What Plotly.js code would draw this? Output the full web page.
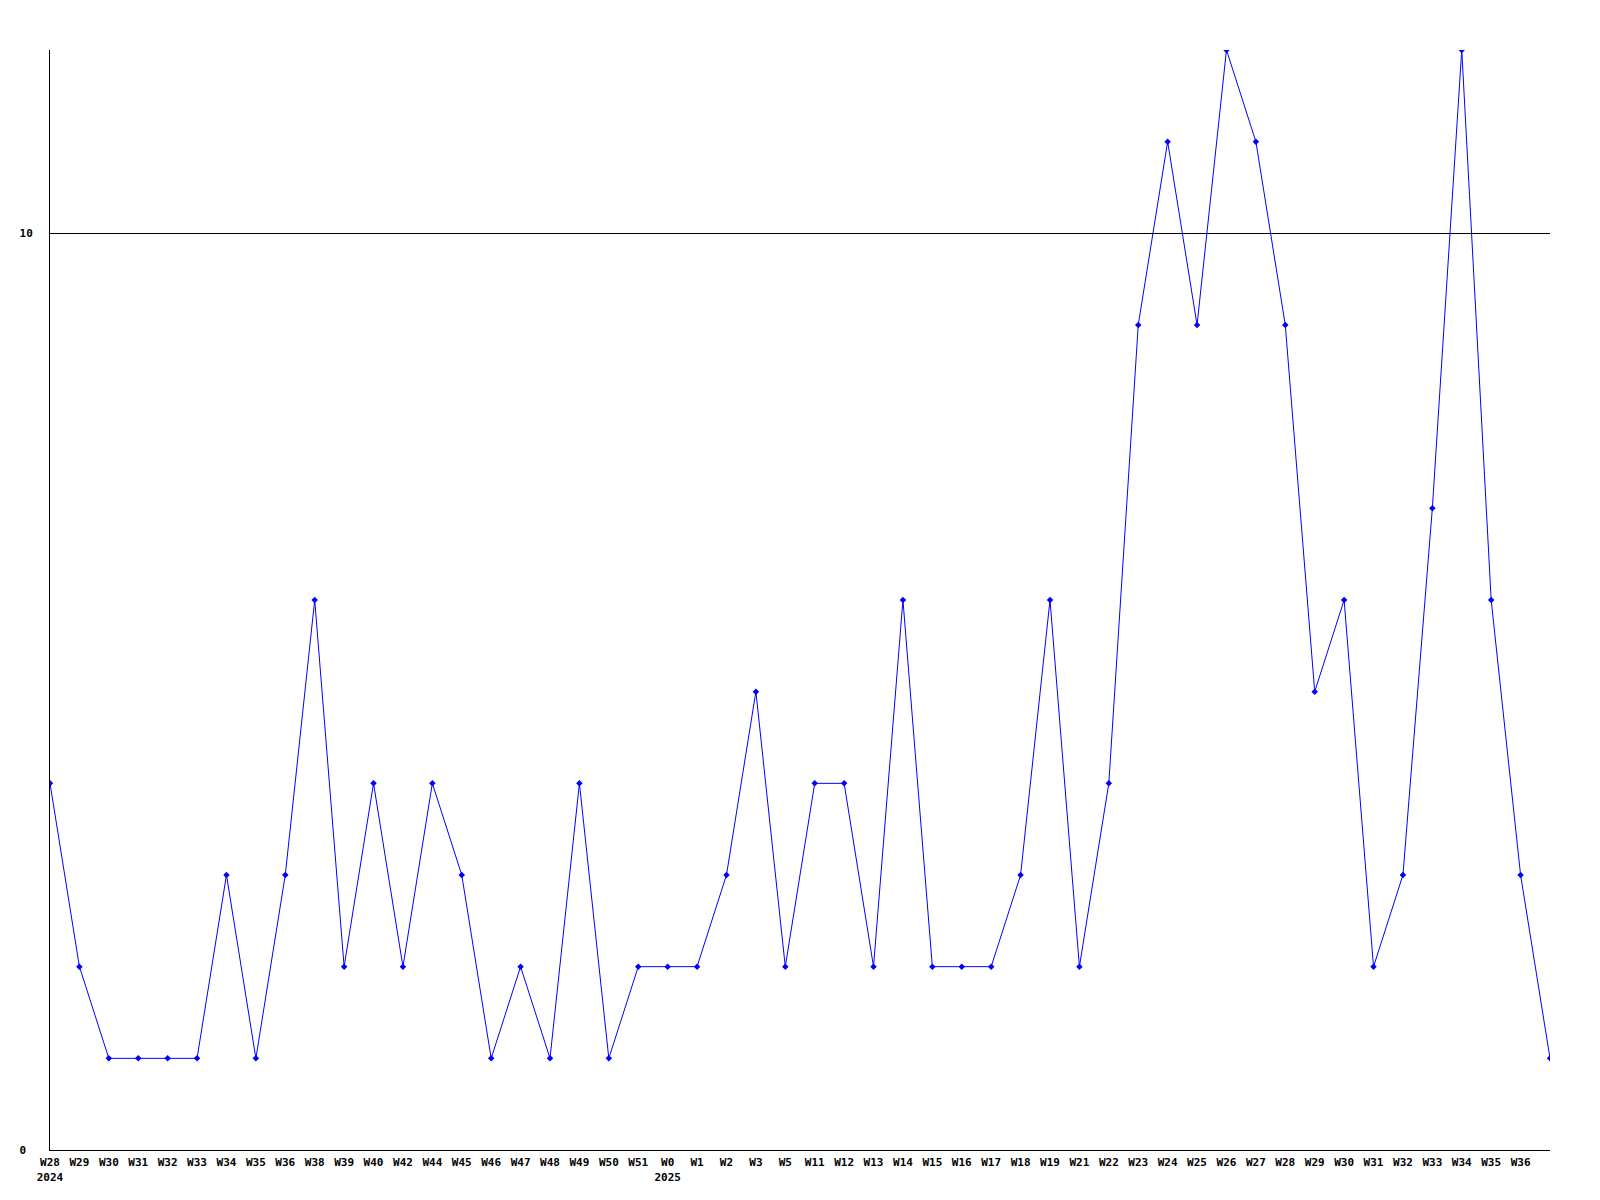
<!DOCTYPE html>
<html>
<head>
<meta charset="utf-8">
<script src="https://cdn.plot.ly/plotly-3.0.1.min.js"></script>
<style>html,body{margin:0;padding:0;background:#fff;}#chart{width:1600px;height:1200px;}</style>
</head>
<body>
<div id="chart"></div>
<script>
const weekLabels = ["W28","W29","W30","W31","W32","W33","W34","W35","W36","W38","W39","W40","W42","W44","W45","W46","W47","W48","W49","W50","W51","W0","W1","W2","W3","W5","W11","W12","W13","W14","W15","W16","W17","W18","W19","W21","W22","W23","W24","W25","W26","W27","W28","W29","W30","W31","W32","W33","W34","W35","W36",""];
const yearLabels = ["2024","","","","","","","","","","","","","","","","","","","","","2025","","","","","","","","","","","","","","","","","","","","","","","","","","","","","",""];
const values = [4,2,1,1,1,1,3,1,3,6,2,4,2,4,3,1,2,1,4,1,2,2,2,3,5,2,4,4,2,6,2,2,2,3,6,2,4,9,11,9,12,11,9,5,6,2,3,7,12,6,3,1];
const yTickVals = [0,10];
const yTickText = ["0\u00a0","10"];

const xs = values.map((v,i)=>i);
const tickText = weekLabels.map((w,i)=> yearLabels[i] ? w + "<br>" + yearLabels[i] : w);

const font = {family: "DejaVu Sans Mono, monospace", size: 11, color: "#000"};

Plotly.newPlot("chart", [{
  x: xs, y: values, type: "scatter", mode: "lines+markers",
  line: {color: "#0000ff", width: 1},
  marker: {color: "#0000ff", size: 5, symbol: "diamond"},
  hoverinfo: "skip"
}], {
  width: 1600, height: 1200,
  margin: {l: 50, r: 50, t: 50, b: 50},
  paper_bgcolor: "#fff", plot_bgcolor: "#fff",
  showlegend: false,
  font: font,
  xaxis: {
    range: [0, values.length - 1],
    tickmode: "array", tickvals: xs, ticktext: tickText,
    showgrid: false, zeroline: false,
    showline: true, linecolor: "#000", linewidth: 1,
    ticks: "", ticklen: 0,
    tickangle: 0,
    ticklabelstandoff: 2,
    tickfont: {family: "DejaVu Sans Mono, monospace", size: 11, color: "#000", weight: "bold"},
    fixedrange: true
  },
  yaxis: {
    range: [0, 12],
    tickmode: "array", tickvals: yTickVals, ticktext: yTickText,
    showgrid: true, gridcolor: "#000", gridwidth: 1,
    zeroline: false,
    showline: true, linecolor: "#000", linewidth: 1,
    ticks: "", ticklen: 0,
    ticklabelstandoff: 14,
    tickfont: {family: "DejaVu Sans Mono, monospace", size: 11, color: "#000", weight: "bold"},
    fixedrange: true
  },
  hovermode: false
}, {displayModeBar: false, staticPlot: true});
</script>
</body>
</html>
